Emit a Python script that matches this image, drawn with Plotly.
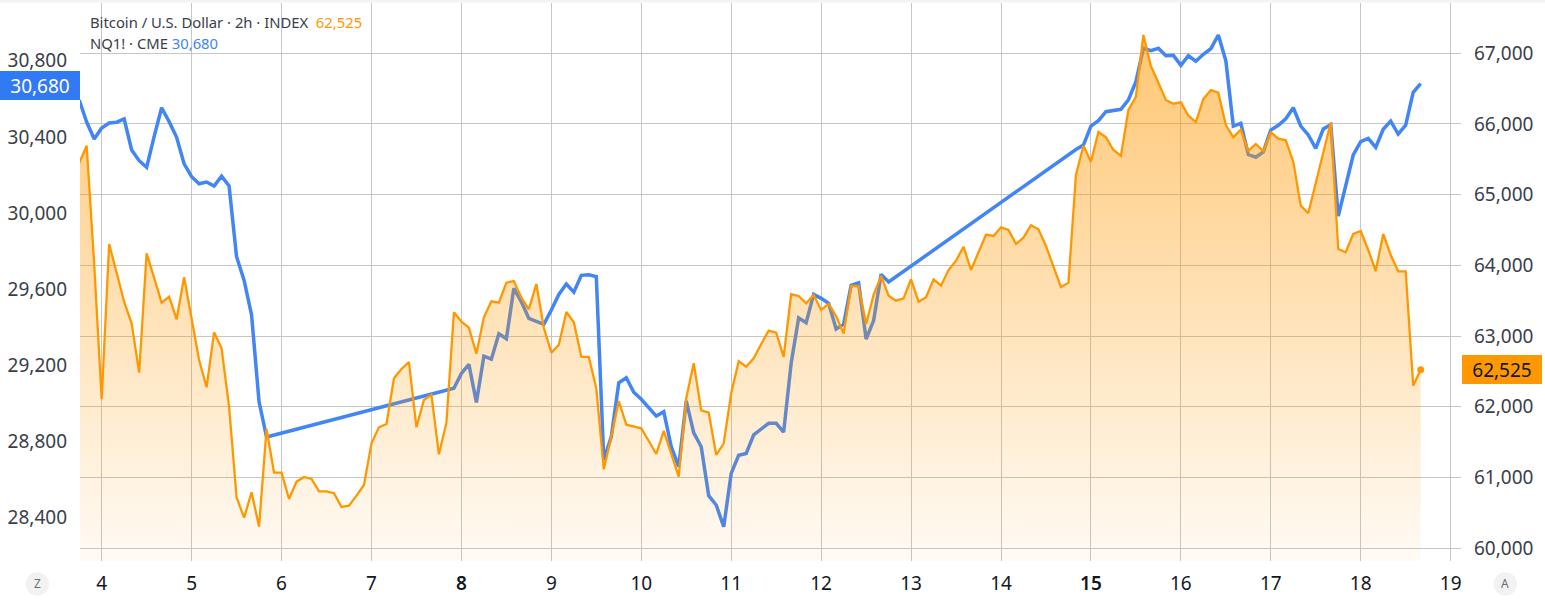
import plotly.graph_objects as go

# 2h bars, first one is 3 bars before the 4th
DAYS = [4 + k / 12 for k in range(-3, 177)]

BTC = [
    65449, 65693, 64020,
    62107, 64303, 63893, 63483, 63182, 62483, 64172, 63822, 63473, 63558, 63238, 63832,
    63275, 62663, 62277, 63054, 62828, 62002, 60721, 60432, 60792, 60305, 61687, 61069,
    61069, 60697, 60942, 61008, 60980, 60806, 60806, 60778, 60584, 60602, 60744, 60895,
    61485, 61711, 61758, 62404, 62535, 62634, 61711, 62097, 62172, 61329, 61776, 63337,
    63204, 63119, 62752, 63267, 63493, 63473, 63756, 63780, 63544, 63380, 63737, 63119,
    62766, 62879, 63341, 63196, 62709, 62705, 62262, 61117, 61578, 62083, 61748, 61719,
    61697, 61517, 61333, 61659, 61323, 61012, 62121, 62616, 61951, 61917, 61319, 61485,
    62192, 62644, 62568, 62687, 62889, 63077, 63049, 62705, 63592, 63568, 63464, 63582,
    63370, 63455, 63285, 63035, 63709, 63709, 63172, 63582, 63851, 63572, 63501, 63535,
    63804, 63487, 63549, 63804, 63713, 63935, 64067, 64265, 63935, 64194, 64435, 64416,
    64539, 64501, 64303, 64392, 64568, 64511, 64275, 63982, 63695, 63756, 65279, 65693,
    65467, 65887, 65812, 65632, 65548, 66198, 66386, 67259, 66820, 66584, 66340, 66287,
    66307, 66118, 66028, 66354, 66481, 66443, 65986, 65812, 65920, 65623, 65717, 65618,
    65883, 65792, 65770, 65467, 64845, 64737, 65166, 65590, 66021, 64232, 64186, 64445,
    64487, 64218, 63921, 64445, 64148, 63917, 63917, 62299, 62525,
]

# futures have no bars over the weekend, the line just bridges them
NQ = [
    30594, 30478, 30389,
    30447, 30473, 30477, 30494, 30331, 30275, 30240, 30401, 30553, 30480, 30398, 30258,
    30191, 30154, 30163, 30142, 30194, 30142, 29771, 29648, 29465, 29009, 28824,
    *[None] * 24,
    29080, 29158, 29206, 29006, 29249, 29233, 29366, 29340, 29605, 29534, 29447, 29429, 29416,
    29491, 29573, 29627, 29585, 29673, 29676, 29666, 28703, 28825, 29109, 29135, 29059,
    29022, 28980, 28934, 28957, 28773, 28668, 29014, 28846, 28773, 28516, 28467, 28353,
    28633, 28728, 28738, 28836, 28867, 28896, 28896, 28850, 29211, 29449, 29424, 29573,
    29552, 29526, 29391, 29416, 29620, 29634, 29338, 29435, 29678, 29638,
    *[None] * 24,
    30334, 30357,
    30457, 30485, 30532, 30540, 30545, 30594, 30690, 30865, 30853, 30865, 30826, 30828,
    30776, 30826, 30797, 30834, 30863, 30935, 30800, 30457, 30471, 30308, 30293, 30321,
    30436, 30461, 30495, 30553, 30457, 30410, 30340, 30441, 30464, 29984, 30137, 30305,
    30375, 30392, 30345, 30440, 30483, 30415, 30461, 30634, 30680,
]

SEMI = '<span style="font-weight:600">%s</span>'
DAY_TICKS = list(range(4, 20))
DAY_LABELS = ["4", "5", "6", "7", SEMI % "8", "9", "10", "11", "12", "13", "14", SEMI % "15", "16", "17", "18", "19"]
LEFT_TICKS = [28400, 28800, 29200, 29600, 30000, 30400, 30800]
RIGHT_TICKS = [60000, 61000, 62000, 63000, 64000, 65000, 66000, 67000]

ORANGE = "#ff9800"
BLUE = "#4285f4"
TEXT = "#3a3e4a"
GRID = "#c6c6c6"
FONT = "Noto Sans"

W, H = 1545, 605
L, R, T, B = 80, 84, 3, 44


def paper_x(px):
    return (px - L) / (W - L - R)


def paper_y(px):
    return 1 - (px - T) / (H - T - B)


BTC_LOW = 59820

fig = go.Figure()

# NQ sits on the base axes so the orange area washes over it
fig.add_trace(go.Scatter(
    x=DAYS, y=NQ, mode="lines", connectgaps=True,
    line=dict(color=BLUE, width=3.5), yaxis="y", hoverinfo="skip",
))
fig.add_trace(go.Scatter(
    x=DAYS, y=BTC, mode="lines", yaxis="y2", fill="tozeroy",
    line=dict(color=ORANGE, width=2.3), hoverinfo="skip",
    fillgradient=dict(
        type="vertical", start=BTC_LOW, stop=max(BTC),
        colorscale=[[0, "rgba(255,152,0,0.04)"], [1, "rgba(255,152,0,0.55)"]],
    ),
))
fig.add_trace(go.Scatter(
    x=DAYS[-1:], y=BTC[-1:], mode="markers", yaxis="y2",
    marker=dict(color=ORANGE, size=7), hoverinfo="skip",
))

fig.update_layout(
    width=W, height=H, showlegend=False,
    margin=dict(l=L, r=R, t=T, b=B, pad=0),
    paper_bgcolor="white", plot_bgcolor="white",
    font=dict(family=FONT, color=TEXT, size=19),
    xaxis=dict(
        range=[3.759, 19.115], tickvals=DAY_TICKS, ticktext=DAY_LABELS,
        showgrid=True, gridcolor=GRID, gridwidth=1, zeroline=False, showline=False,
        ticks="", ticklabelstandoff=9, tickfont=dict(family=FONT, size=19, color="#131722"),
    ),
    yaxis=dict(
        range=[28173, 31103], tickvals=LEFT_TICKS, tickformat=",", side="left",
        showgrid=False, zeroline=False, showline=False, ticks="", ticklabelstandoff=12,
    ),
    yaxis2=dict(
        range=[BTC_LOW, 67711], tickvals=RIGHT_TICKS, tickformat=",", side="right",
        overlaying="y", showgrid=True, gridcolor=GRID, gridwidth=1,
        zeroline=False, showline=False, ticks="", ticklabelstandoff=12,
    ),
)

# header lines
fig.add_annotation(
    xref="paper", yref="paper", x=paper_x(88), y=paper_y(22), xanchor="left", yanchor="middle",
    showarrow=False, font=dict(size=14.8, color=TEXT),
    text=f'Bitcoin / U.S. Dollar · 2h · INDEX  <span style="color:{ORANGE}">{BTC[-1]:,}</span>',
)
fig.add_annotation(
    xref="paper", yref="paper", x=paper_x(88), y=paper_y(43), xanchor="left", yanchor="middle",
    showarrow=False, font=dict(size=14.8, color=TEXT),
    text=f'NQ1! · CME <span style="color:{BLUE}">{NQ[-1]:,}</span>',
)

# last price tags
fig.add_annotation(
    xref="paper", yref="y", x=0, y=NQ[-1], xanchor="right", yanchor="middle", yshift=-1.5,
    showarrow=False, width=80, height=29, bgcolor="#3179f5", borderpad=0, borderwidth=0,
    font=dict(size=19, color="white"), text=f"{NQ[-1]:,}",
)
fig.add_annotation(
    xref="paper", yref="y2", x=1, y=BTC[-1], xanchor="left", yanchor="middle", xshift=1,
    showarrow=False, width=80, height=29, bgcolor=ORANGE, borderpad=0, borderwidth=0,
    font=dict(size=19, color="#131722"), text=f"{BTC[-1]:,}",
)

# Z and A buttons, plus the pale strip along the top edge
for cx, letter in [(37.3, "Z"), (1505.3, "A")]:
    fig.add_shape(
        type="circle", xref="paper", yref="paper", layer="below",
        x0=paper_x(cx - 11.7), x1=paper_x(cx + 11.7), y0=paper_y(584 + 11.7), y1=paper_y(584 - 11.7),
        fillcolor="#f2f2f2", line_width=0,
    )
    fig.add_annotation(
        xref="paper", yref="paper", x=paper_x(cx), y=paper_y(584), xanchor="center", yanchor="middle",
        showarrow=False, font=dict(size=12, color="#6a6d78"), text=letter,
    )
fig.add_shape(
    type="rect", xref="paper", yref="paper", x0=paper_x(0), x1=paper_x(W), y0=paper_y(2.5), y1=paper_y(0),
    fillcolor="#f3f3f3", line_width=0,
)

fig.write_html("out.html", config={"displayModeBar": False}, post_script="document.body.style.margin='0';")
